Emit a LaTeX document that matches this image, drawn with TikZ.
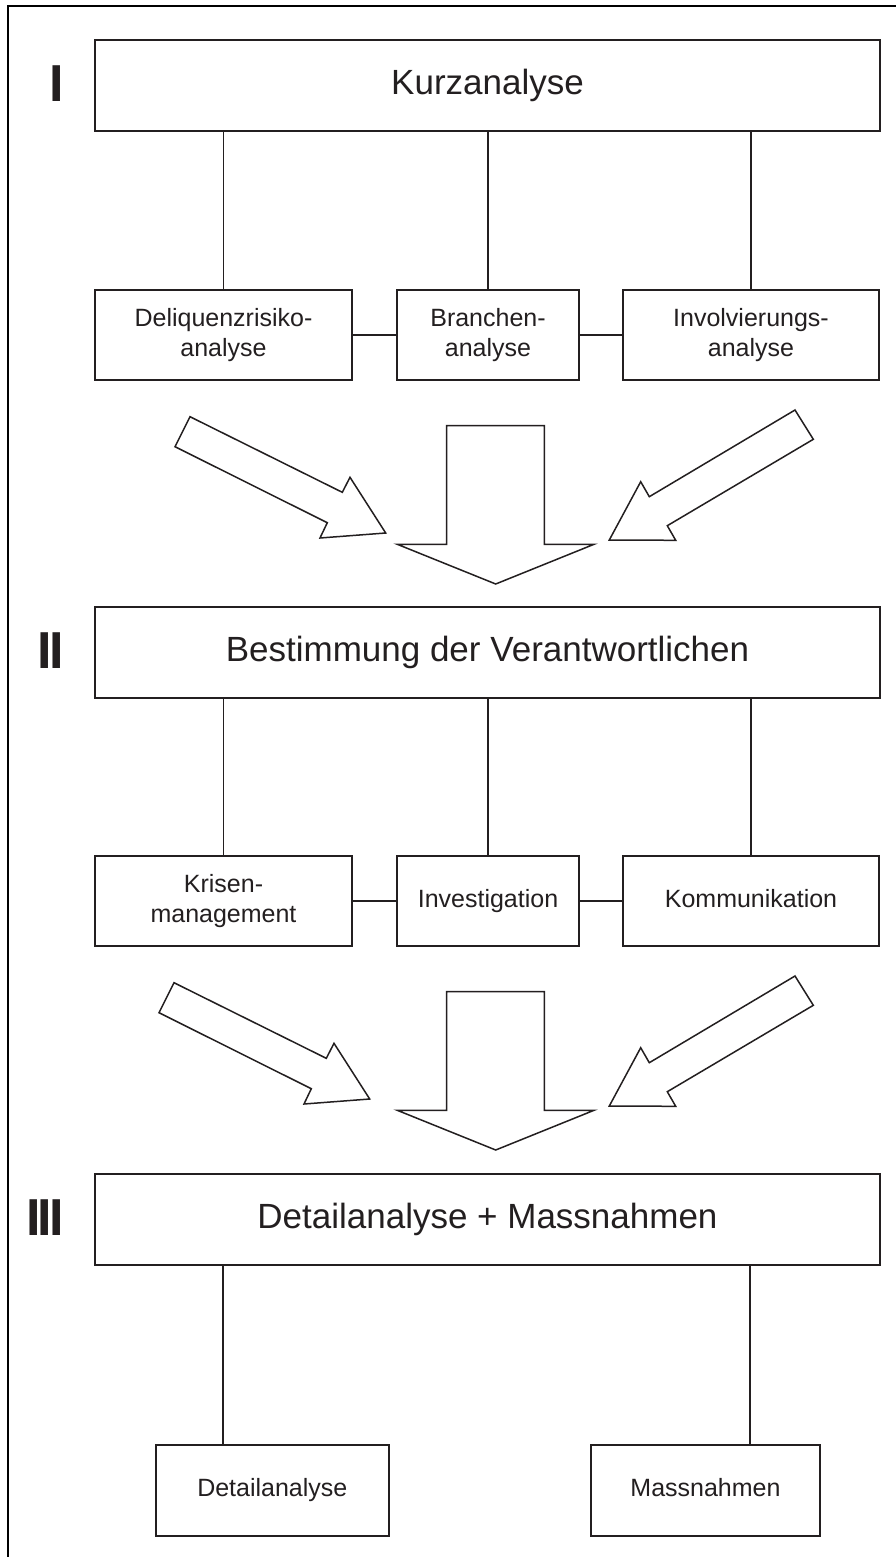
\documentclass[tikz,border=0pt]{standalone}
\usepackage{fontspec}
\setmainfont{Liberation Sans}
\definecolor{lc}{RGB}{35,31,32}
\tikzset{
  bigbox/.style={draw=lc, line width=1.6pt, minimum width=785pt, minimum height=91pt, inner sep=0pt, text=lc, font=\fontsize{35}{42}\selectfont},
  smallbox/.style={draw=lc, line width=1.6pt, minimum height=90pt, inner sep=0pt, align=center, text=lc, font=\fontsize{25}{30}\selectfont},
  oneline/.style={text height=18pt, text depth=5.3pt},
  conn/.style={draw=lc, line width=1.6pt},
  blockarrow/.style={draw=lc, line width=1.5pt, fill=white, line join=miter},
  numeral/.style={anchor=base east, inner sep=0pt, text=lc, font=\fontsize{52}{52}\selectfont\bfseries},
  frameline/.style={draw=black, line width=2.8pt}
}
\begin{document}
\begin{tikzpicture}[x=1pt,y=-1pt]
\useasboundingbox (0,0) rectangle (896,1557);
\fill[white] (0,0) rectangle (896,1557);
% frame
\draw[frameline] (8,1557) -- (8,6) -- (896,6);

% numerals
\node[numeral] (n1) at (64,102) {I};
\node[numeral] (n2) at (64,668) {I\kern-3ptI};
\node[numeral] (n3) at (64,1235) {I\kern-3ptI\kern-3ptI};

% level I
\node[bigbox] (k) at (487.5,85.5) {Kurzanalyse};
\node[smallbox, minimum width=257pt] (a1) at (223.5,335) {Deliquenzrisiko-\\analyse};
\node[smallbox, minimum width=182pt] (a2) at (488,335) {Branchen-\\analyse};
\node[smallbox, minimum width=256pt] (a3) at (751,335) {Involvierungs-\\analyse};
\draw[conn] (a1.north) -- (a1.north |- k.south);
\draw[conn] (a2.north) -- (a2.north |- k.south);
\draw[conn] (a3.north) -- (a3.north |- k.south);
\draw[conn] (a1.east) -- (a2.west);
\draw[conn] (a2.east) -- (a3.west);

% arrows row 1
\draw[blockarrow] (190,416.7) -- (342.3,492.3) -- (350,477.3) -- (385.7,533) -- (320,538) -- (327.3,522.7) -- (175,446.7) -- cycle;
\draw[blockarrow] (446.7,425.7) -- (544.3,425.7) -- (544.3,544.3) -- (594,544.3) -- (495.7,584) -- (397.3,544.3) -- (446.7,544.3) -- cycle;
\draw[blockarrow] (795,410) -- (813.3,439.3) -- (667.3,525.7) -- (675.7,540.3) -- (609.3,540) -- (640.7,481.7) -- (649.3,496.7) -- cycle;

% level II
\node[bigbox] (b) at (487.5,652.5) {Bestimmung der Verantwortlichen};
\node[smallbox, minimum width=257pt] (c1) at (223.5,901) {Krisen-\\management};
\node[smallbox, oneline, minimum width=182pt] (c2) at (488,901) {Investigation};
\node[smallbox, oneline, minimum width=256pt] (c3) at (751,901) {Kommunikation};
\draw[conn] (c1.north) -- (c1.north |- b.south);
\draw[conn] (c2.north) -- (c2.north |- b.south);
\draw[conn] (c3.north) -- (c3.north |- b.south);
\draw[conn] (c1.east) -- (c2.west);
\draw[conn] (c2.east) -- (c3.west);

% arrows row 2
\begin{scope}[yshift=-566pt]
\draw[blockarrow, xshift=-16pt] (190,416.7) -- (342.3,492.3) -- (350,477.3) -- (385.7,533) -- (320,538) -- (327.3,522.7) -- (175,446.7) -- cycle;
\draw[blockarrow] (446.7,425.7) -- (544.3,425.7) -- (544.3,544.3) -- (594,544.3) -- (495.7,584) -- (397.3,544.3) -- (446.7,544.3) -- cycle;
\draw[blockarrow] (795,410) -- (813.3,439.3) -- (667.3,525.7) -- (675.7,540.3) -- (609.3,540) -- (640.7,481.7) -- (649.3,496.7) -- cycle;
\end{scope}

% level III
\node[bigbox] (d) at (487.5,1219.5) {Detailanalyse + Massnahmen};
\node[smallbox, oneline, minimum width=233pt, minimum height=91pt] (e1) at (272.3,1490.5) {Detailanalyse};
\node[smallbox, oneline, minimum width=229pt, minimum height=91pt] (e2) at (705.5,1490.5) {Massnahmen};
\draw[conn] ([xshift=68pt]e1.north west) -- ([xshift=68pt]e1.north west |- d.south);
\draw[conn] ([xshift=-70.6pt]e2.north east) -- ([xshift=-70.6pt]e2.north east |- d.south);
\end{tikzpicture}
\end{document}
